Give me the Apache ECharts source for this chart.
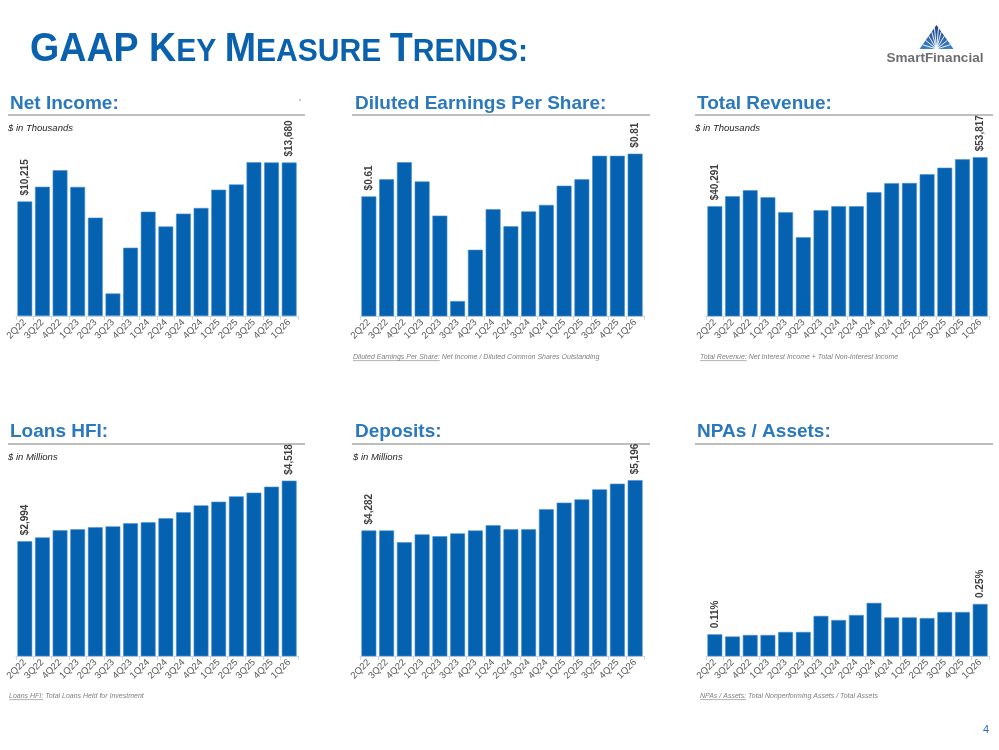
<!DOCTYPE html>
<html><head><meta charset="utf-8">
<script src="https://cdn.jsdelivr.net/npm/echarts@6/dist/echarts.min.js"></script>
<style>html,body{margin:0;padding:0;background:#fff}#c{width:999px;height:750px}</style>
</head><body><div id="c"></div>
<script>
// ---------- data ----------
const categories = ['2Q22','3Q22','4Q22','1Q23','2Q23','3Q23','4Q23','1Q24','2Q24','3Q24','4Q24','1Q25','2Q25','3Q25','4Q25','1Q26'];
const netIncome = [10215, 11520, 12990, 11510, 8770, 2010, 6090, 9300, 7980, 9130, 9630, 11260, 11730, 13700, 13690, 13680];
const dilutedEPS = [0.61, 0.69, 0.77, 0.68, 0.52, 0.12, 0.36, 0.55, 0.47, 0.54, 0.57, 0.66, 0.69, 0.80, 0.80, 0.81];
const totalRevenue = [40291, 43040, 44700, 42760, 38620, 31720, 39180, 40290, 40300, 44140, 46630, 46710, 49110, 50930, 53250, 53817];
const loansHFI = [2994, 3090, 3268, 3293, 3343, 3368, 3444, 3469, 3570, 3721, 3897, 3989, 4124, 4216, 4367, 4518];
const deposits = [4282, 4282, 4067, 4212, 4176, 4230, 4282, 4376, 4303, 4303, 4667, 4788, 4848, 5030, 5133, 5196];
const npaAssets = [0.11, 0.10, 0.107, 0.107, 0.121, 0.121, 0.195, 0.176, 0.199, 0.255, 0.188, 0.188, 0.185, 0.213, 0.213, 0.25];

const panelTitles = ['Net Income:', 'Diluted Earnings Per Share:', 'Total Revenue:', 'Loans HFI:', 'Deposits:', 'NPAs / Assets:'];
const unitNotes = ['$ in Thousands', '', '$ in Thousands', '$ in Millions', '$ in Millions', ''];
const footnotes = [
  null,
  ['Diluted Earnings Per Share:', ' Net Income / Diluted Common Shares Outstanding'],
  ['Total Revenue:', ' Net Interest Income + Total Non-Interest Income'],
  ['Loans HFI:', ' Total Loans Held for Investment'],
  null,
  ['NPAs / Assets:', ' Total Nonperforming Assets / Total Assets']
];

// ---------- layout / style ----------
const FF = '"Liberation Sans", Arial, Helvetica, sans-serif';
const BAR = '#0462b1';
const colX = [16, 360, 706];
const colW = [282, 284, 283];
const colTextX = [10, 355, 697];
const lineX = [[8, 305], [352, 650], [695, 993]];
const rows = [{gridTop: 140, gridH: 176, titleBase: 110, line: 115, unit: 128, foot: 357},
              {gridTop: 478, gridH: 178, titleBase: 438, line: 444, unit: 457, foot: 696}];

const fmtK = v => '$' + Math.round(v).toLocaleString('en-US');
const panels = [
  {data: netIncome, min: 0, max: 15690, fmt: fmtK},
  {data: dilutedEPS, min: 0.05, max: 0.874, fmt: v => '$' + v.toFixed(2)},
  {data: totalRevenue, min: 10000, max: 58580, fmt: fmtK},
  {data: loansHFI, min: 100, max: 4586, fmt: fmtK},
  {data: deposits, min: 2000, max: 5236, fmt: fmtK},
  {data: npaAssets, min: 0.01, max: 0.831, fmt: v => v.toFixed(2) + '%'}
];

const mctx = document.createElement('canvas').getContext('2d');
function measure(str, font) { mctx.font = font; return mctx.measureText(str).width; }

const grid = [], xAxis = [], yAxis = [], series = [], graphic = [];
panels.forEach((p, i) => {
  const r = rows[Math.floor(i / 3)], c = i % 3;
  grid.push({left: colX[c], width: colW[c], top: r.gridTop, height: r.gridH});
  xAxis.push({type: 'category', gridIndex: i, data: categories,
    axisLine: {lineStyle: {color: '#cfd8e2', width: 1}},
    axisTick: {show: true, length: 4, lineStyle: {color: '#cfd8e2'}},
    axisLabel: {rotate: 45, interval: 0, fontSize: 9.5, color: '#595959', margin: 5, fontFamily: FF}});
  yAxis.push({type: 'value', gridIndex: i, min: p.min, max: p.max, show: false, splitLine: {show: false}});
  const last = p.data.length - 1;
  series.push({type: 'bar', xAxisIndex: i, yAxisIndex: i, data: p.data, barCategoryGap: '16%',
    itemStyle: {color: BAR, borderColor: '#4a8fd0', borderWidth: 0.6},
    label: {show: true, position: 'top', rotate: 90, align: 'left', verticalAlign: 'middle', distance: 6,
      fontSize: 10, fontWeight: 'bold', color: '#404040', fontFamily: FF,
      formatter: q => (q.dataIndex === 0 || q.dataIndex === last) ? p.fmt(q.value) : ''},
    silent: true, animation: false});

  // panel title + underline + unit note + footnote
  const tFont = 'bold 19px ' + FF;
  graphic.push({type: 'text', x: colTextX[c], y: r.titleBase - 0.35 * 19,
    style: {text: panelTitles[i], font: tFont, fill: '#2a78bd', align: 'left', verticalAlign: 'middle'}});
  graphic.push({type: 'line', shape: {x1: lineX[c][0], y1: r.line, x2: lineX[c][1], y2: r.line},
    style: {stroke: '#7f7f7f', lineWidth: 1.2}});
  if (unitNotes[i]) {
    graphic.push({type: 'text', x: colTextX[c] - 2, y: r.unit,
      style: {text: unitNotes[i], font: 'italic 9.5px ' + FF, fill: '#262626', align: 'left', verticalAlign: 'middle'}});
  }
  const fn = footnotes[i];
  if (fn) {
    const fFont = 'italic 7px ' + FF;
    const w1 = measure(fn[0], fFont);
    const fx = c === 0 ? 9 : (c === 1 ? 353 : 700);
    graphic.push({type: 'group', x: fx, y: r.foot, children: [
      {type: 'text', x: 0, y: 0, style: {text: fn[0], font: fFont, fill: '#808080', align: 'left', verticalAlign: 'middle'}},
      {type: 'line', shape: {x1: 0, y1: 3.6, x2: w1, y2: 3.6}, style: {stroke: '#808080', lineWidth: 0.6}},
      {type: 'text', x: w1, y: 0, style: {text: fn[1], font: fFont, fill: '#808080', align: 'left', verticalAlign: 'middle'}}
    ]});
  }
});

// ---------- main title in small caps ----------
const titleParts = [['GAAP ', 40], ['K', 40], ['EY ', 32], ['M', 40], ['EASURE ', 32], ['T', 40], ['RENDS:', 32]];
const titleBase = 63.5;
let tx = 0; const tChildren = [];
titleParts.forEach(([s, fs]) => {
  const f = 'bold ' + fs + 'px ' + FF;
  tChildren.push({type: 'text', x: tx, y: titleBase - 0.35 * fs,
    style: {text: s, font: f, fill: '#0a62ae', align: 'left', verticalAlign: 'middle'}});
  tx += measure(s, f);
});
const lastW = measure(':', 'bold 32px ' + FF);
graphic.push({type: 'group', x: 30, y: 0, scaleX: 498 / tx, children: tChildren});

// ---------- logo ----------
const ax = 936.5, ay = 25, bl = 919.5, br = 953.5, by = 49;
const logo = [{type: 'polygon', shape: {points: [[ax, ay], [br, by], [bl, by]]},
  style: {fill: new echarts.graphic.LinearGradient(0, 0, 0, 1, [{offset: 0, color: '#1d3f87'}, {offset: 1, color: '#3f82c6'}])}}];
[0.18, 0.36, 0.54, 0.72, 0.88].forEach(t => {
  logo.push({type: 'line', shape: {x1: ax, y1: by, x2: bl + (ax - bl) * t, y2: by + (ay - by) * t}, style: {stroke: '#fff', lineWidth: 0.9}});
  logo.push({type: 'line', shape: {x1: ax, y1: by, x2: br + (ax - br) * t, y2: by + (ay - by) * t}, style: {stroke: '#fff', lineWidth: 0.9}});
});
logo.push({type: 'text', x: 935, y: 58, style: {text: 'SmartFinancial', font: 'bold 13.5px ' + FF, fill: '#6d6e71', align: 'center', verticalAlign: 'middle'}});
graphic.push({type: 'group', children: logo});

// page number and stray dot
graphic.push({type: 'text', x: 986, y: 730, style: {text: '4', font: '11px ' + FF, fill: '#2f6db5', align: 'center', verticalAlign: 'middle'}});
graphic.push({type: 'circle', shape: {cx: 300, cy: 100, r: 0.7}, style: {fill: '#666'}});

const chart = echarts.init(document.getElementById('c'), null, {renderer: 'canvas'});
chart.setOption({animation: false, backgroundColor: '#fff', grid, xAxis, yAxis, series, graphic});
</script></body></html>
